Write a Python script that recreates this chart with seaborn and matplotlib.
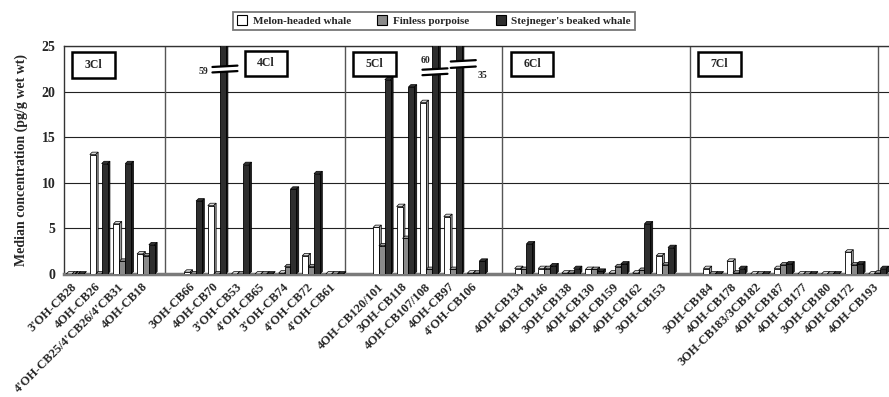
import numpy as np
import pandas as pd
import matplotlib
matplotlib.use("Agg")
import matplotlib.pyplot as plt
import matplotlib.transforms as mtransforms
from matplotlib.colors import to_rgb
from matplotlib.patches import Rectangle, Polygon
from matplotlib.lines import Line2D
import seaborn as sns

# ---- data -----------------------------------------------------------------
groups = ["3Cl", "4Cl", "5Cl", "6Cl", "7Cl"]
congeners_3cl = ["3'OH-CB28", "4OH-CB26", "4'OH-CB25/4'CB26/4'CB31", "4OH-CB18"]
congeners_4cl = ["3OH-CB66", "4OH-CB70", "3'OH-CB53", "4'OH-CB65",
                 "3'OH-CB74", "4'OH-CB72", "4'OH-CB61"]
congeners_5cl = ["4OH-CB120/101", "3OH-CB118", "4OH-CB107/108", "4OH-CB97",
                 "4'OH-CB106"]
congeners_6cl = ["4OH-CB134", "4OH-CB146", "3OH-CB138", "4OH-CB130",
                 "4OH-CB159", "4OH-CB162", "3OH-CB153"]
congeners_7cl = ["3OH-CB184", "4OH-CB178", "3OH-CB183/3CB182", "4OH-CB187",
                 "4OH-CB177", "3OH-CB180", "4OH-CB172", "4OH-CB193"]

species = ["Melon-headed whale", "Finless porpoise", "Stejneger's beaked whale"]

# median concentrations (pg/g wet wt), same order as the congener lists
melon_headed = [0, 13.1, 5.5, 2.2,
                0.2, 7.5, 0, 0, 0.1, 2.0, 0,
                5.1, 7.4, 18.8, 6.3, 0.1,
                0.6, 0.6, 0.1, 0.5, 0.1, 0.1, 2.0,
                0.6, 1.4, 0, 0.6, 0, 0, 2.4, 0]
finless = [0, 0, 1.4, 2.0,
           0, 0, 0, 0, 0.8, 0.8, 0,
           3.1, 3.9, 0.5, 0.5, 0.1,
           0.5, 0.6, 0.1, 0.5, 0.8, 0.4, 1.0,
           0, 0.1, 0, 1.0, 0, 0, 1.0, 0.1]
stejneger = [0, 12.1, 12.1, 3.2,
             8.0, 59, 12.0, 0, 9.3, 11.0, 0,
             21.3, 20.5, 60, 35, 1.4,
             3.3, 0.9, 0.6, 0.3, 1.1, 5.5, 2.9,
             0, 0.6, 0, 1.1, 0, 0, 1.1, 0.6]

colors = ["#ffffff", "#8a8a8a", "#2e2e2e"]
y_max = 25

# ---- layout of the category axis (one empty slot between groups) ----------
group_members = [congeners_3cl, congeners_4cl, congeners_5cl,
                 congeners_6cl, congeners_7cl]
congeners, slots = [], []
pos = 0
for members in group_members:
    for name in members:
        congeners.append(name)
        slots.append(pos)
        pos += 1
    pos += 1

df = pd.DataFrame({
    "congener": np.repeat(congeners, 3),
    "slot": np.repeat(slots, 3),
    "species": species * len(congeners),
    "value": np.ravel(np.column_stack([melon_headed, finless, stejneger])),
})

# ---- figure ---------------------------------------------------------------
sns.set_style("white")
plt.rcParams["font.family"] = ["Liberation Serif", "DejaVu Serif"]
plt.rcParams["font.weight"] = "bold"

W, H = 889, 397
fig = plt.figure(figsize=(W / 100, H / 100), dpi=100)
ax = fig.add_axes([64 / W, (H - 274) / H, (W - 64) / W, (274 - 46) / H])


def fig_xy(px, py):
    return px / W, 1 - py / H


sns.barplot(data=df, x="slot", y="value", hue="species", hue_order=species,
            palette=colors, native_scale=True, width=0.75, saturation=1,
            edgecolor="black", linewidth=0.6, errorbar=None, ax=ax, zorder=3)

ax.set_xlim(-0.47, 34.49)
ax.set_ylim(0, y_max)
ax.set_yticks(range(0, 26, 5))
ax.set_axisbelow(True)
ax.yaxis.grid(True, color="#222222", lw=0.8)

# give every column a shallow depth: a top face and a right side face
depth_x = 2.4 / 23.6   # slot units
depth_y = 2.4 / 9.14   # value units


def shade(c, f):
    r, g, b = to_rgb(c)
    return (r * f, g * f, b * f)


bars = sorted([p for p in ax.patches if isinstance(p, Rectangle)],
              key=lambda p: p.get_x())
for i, bar in enumerate(bars):
    x, y = bar.get_x(), bar.get_y()
    w, h = bar.get_width(), bar.get_height()
    fc = bar.get_facecolor()
    z = 3 + i * 0.001
    bar.set_zorder(z + 0.0004)
    top = Polygon([[x, y + h], [x + w, y + h], [x + w + depth_x, y + h + depth_y],
                   [x + depth_x, y + h + depth_y]], closed=True,
                  facecolor=shade(fc, 0.85) if sum(fc[:3]) > 2.9 else shade(fc, 1.25) if sum(fc[:3]) < 0.5 else shade(fc, 1.1),
                  edgecolor="black", lw=0.5, zorder=z)
    side = Polygon([[x + w, y], [x + w + depth_x, y + depth_y],
                    [x + w + depth_x, y + h + depth_y], [x + w, y + h]],
                   closed=True, facecolor=shade(fc, 0.6) if sum(fc[:3]) > 0.5 else "#555555",
                   edgecolor="black", lw=0.5, zorder=z)
    ax.add_patch(top)
    ax.add_patch(side)

# separators between chlorination groups
for xb in [3.81, 11.44, 18.09, 26.06, 34.03]:
    ax.axvline(xb, color="#555555", lw=1.0, zorder=1)

ax.set_xticks(slots)
ax.set_xticklabels(congeners, rotation=45, ha="right", va="center",
                   rotation_mode="anchor", fontsize=9, fontweight="bold")
shift = mtransforms.ScaledTranslation(-8 / 100, 0, fig.dpi_scale_trans)
for lab in ax.get_xticklabels():
    lab.set_transform(lab.get_transform() + shift)
ax.tick_params(axis="x", length=0, pad=8)
ax.tick_params(axis="y", length=0, pad=6, labelsize=10)
for lab in ax.get_yticklabels():
    lab.set_fontweight("bold")

ax.set_xlabel("")
ax.set_ylabel("Median concentration (pg/g wet wt)", fontsize=10,
              fontweight="bold", labelpad=10)

for side_name in ["top", "left"]:
    ax.spines[side_name].set_visible(True)
    ax.spines[side_name].set_color("#333333")
    ax.spines[side_name].set_linewidth(1.0)
ax.spines["right"].set_visible(False)
ax.spines["bottom"].set_color("#7a7a7a")
ax.spines["bottom"].set_linewidth(2.5)

# axis breaks on the bars that run off the scale
breaks = [
    # x-extent, y of lower/upper line, label, label position, alignment
    (5.82, 6.88, 22.1, 22.7, "59", (5.66, 22.2), "right"),
    (14.72, 15.78, 21.8, 22.4, "60", (14.83, 23.4), "center"),
    (15.92, 16.98, 22.6, 23.3, "35", (17.25, 21.8), "center"),
]
for x0, x1, ylo, yhi, txt, (tx, ty), ha in breaks:
    tilt = 0.15
    poly = Polygon([[x0, ylo], [x1, ylo + tilt], [x1, yhi + tilt], [x0, yhi]],
                   closed=True, facecolor="white", edgecolor="none", zorder=6)
    ax.add_patch(poly)
    ax.add_line(Line2D([x0, x1], [ylo, ylo + tilt], color="black", lw=1.6, zorder=7))
    ax.add_line(Line2D([x0, x1], [yhi, yhi + tilt], color="black", lw=1.6, zorder=7))
    ax.text(tx, ty, txt, ha=ha, va="center", fontsize=7, fontweight="bold", zorder=8)

# chlorination group captions
group_boxes = [(72, 52, 115, 78), (245, 51, 287, 76), (353, 52, 396, 76),
               (511, 52, 553, 76), (698, 52, 741, 76)]
for name, (x0, y0, x1, y1) in zip(groups, group_boxes):
    fx0, fy1 = fig_xy(x0, y1)
    fx1, fy0 = fig_xy(x1, y0)
    fig.add_artist(Rectangle((fx0, fy1), fx1 - fx0, fy0 - fy1,
                             transform=fig.transFigure, facecolor="white",
                             edgecolor="black", lw=1.8, zorder=5))
    fig.text((fx0 + fx1) / 2, (fy0 + fy1) / 2, name, ha="center", va="center",
             fontsize=8.5, fontweight="bold", zorder=6)

# legend across the top
sns.move_legend(ax, "upper center", bbox_to_anchor=fig_xy(434, 6),
                bbox_transform=fig.transFigure, ncol=3, title=None,
                frameon=True, fancybox=False, handlelength=0.9,
                handleheight=0.9, handletextpad=0.5, columnspacing=2.4,
                borderpad=0.35, prop={"weight": "bold", "size": 8})
leg = ax.get_legend()
leg.get_frame().set_edgecolor("#555555")
leg.get_frame().set_linewidth(1.3)
for h in leg.legend_handles:
    h.set_edgecolor("black")
    h.set_linewidth(0.8)

fig.savefig("out.png", dpi=100)
